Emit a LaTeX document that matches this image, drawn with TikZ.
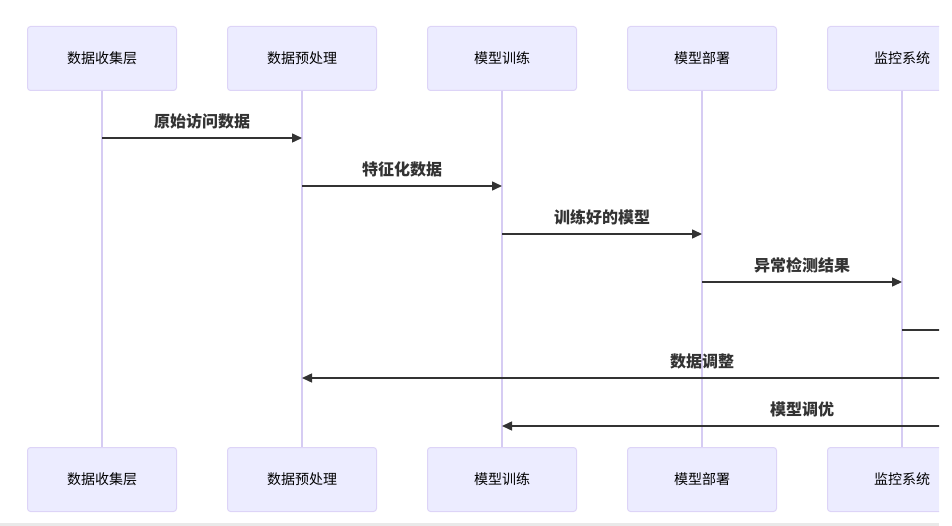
\documentclass[tikz,border=0pt]{standalone}
\usepackage{fontspec}
\setmainfont{Noto Sans CJK SC}
\usepackage{xcolor}
\usetikzlibrary{positioning,arrows.meta,calc}
\definecolor{clila}{HTML}{ECECFF}
\definecolor{cborde}{HTML}{DDD4F7}
\definecolor{cvida}{HTML}{D6CCF3}
\definecolor{cflecha}{HTML}{333333}
\definecolor{cbarra}{HTML}{E9E9E9}
\tikzset{
  actor/.style={rectangle, rounded corners=3pt, draw=cborde, fill=clila, line width=1pt,
    minimum width=149pt, minimum height=64pt, align=center,
    font=\fontsize{14}{16}\selectfont, text=black},
  vida/.style={draw=cvida, line width=1.2pt},
  mensaje/.style={-{Triangle[length=10pt,width=9pt]}, line width=1.5pt, draw=cflecha},
  llano/.style={line width=1.5pt, draw=cflecha},
  etq/.style={font=\fontsize{16}{18}\selectfont\bfseries, text=cflecha},
}

\begin{document}
\begin{tikzpicture}[x=1pt, y=-1pt, node distance=50pt]
  \useasboundingbox (0,0) rectangle (952,526);
  \fill[cbarra] (0,523) rectangle (939,526);
  \clip (0,0) rectangle (939,522);
  % participantes arriba
  \node[actor] (t1) at (102,58.5) {数据收集层};
  \node[actor, right=of t1] (t2) {数据预处理};
  \node[actor, right=of t2] (t3) {模型训练};
  \node[actor, right=of t3] (t4) {模型部署};
  \node[actor, right=of t4] (t5) {监控系统};
  \coordinate (t6) at (1102,91);
  % participantes abajo
  \node[actor, below=356pt of t1] (b1) {数据收集层};
  \node[actor, below=356pt of t2] (b2) {数据预处理};
  \node[actor, below=356pt of t3] (b3) {模型训练};
  \node[actor, below=356pt of t4] (b4) {模型部署};
  \node[actor, below=356pt of t5] (b5) {监控系统};
  \coordinate (b6) at (1102,447);
  % lineas de vida
  \foreach \i in {1,...,5} {
    \draw[vida] (t\i.south) -- (b\i.north);
  }
  % mensajes
  \draw[mensaje] (t1 |- 0,138) -- (t2 |- 0,138) node[midway, yshift=17pt, etq]{原始访问数据};
  \draw[mensaje] (t2 |- 0,186) -- (t3 |- 0,186) node[midway, yshift=17pt, etq]{特征化数据};
  \draw[mensaje] (t3 |- 0,234) -- (t4 |- 0,234) node[midway, yshift=17pt, etq]{训练好的模型};
  \draw[mensaje] (t4 |- 0,282) -- (t5 |- 0,282) node[midway, yshift=17pt, etq]{异常检测结果};
  \draw[llano] (t5 |- 0,330) -- (t6 |- 0,330);
  \draw[mensaje] (t6 |- 0,378) -- (t2 |- 0,378) node[midway, yshift=17pt, etq]{数据调整};
  \draw[mensaje] (t6 |- 0,426) -- (t3 |- 0,426) node[midway, yshift=17pt, etq]{模型调优};
\end{tikzpicture}
\end{document}
